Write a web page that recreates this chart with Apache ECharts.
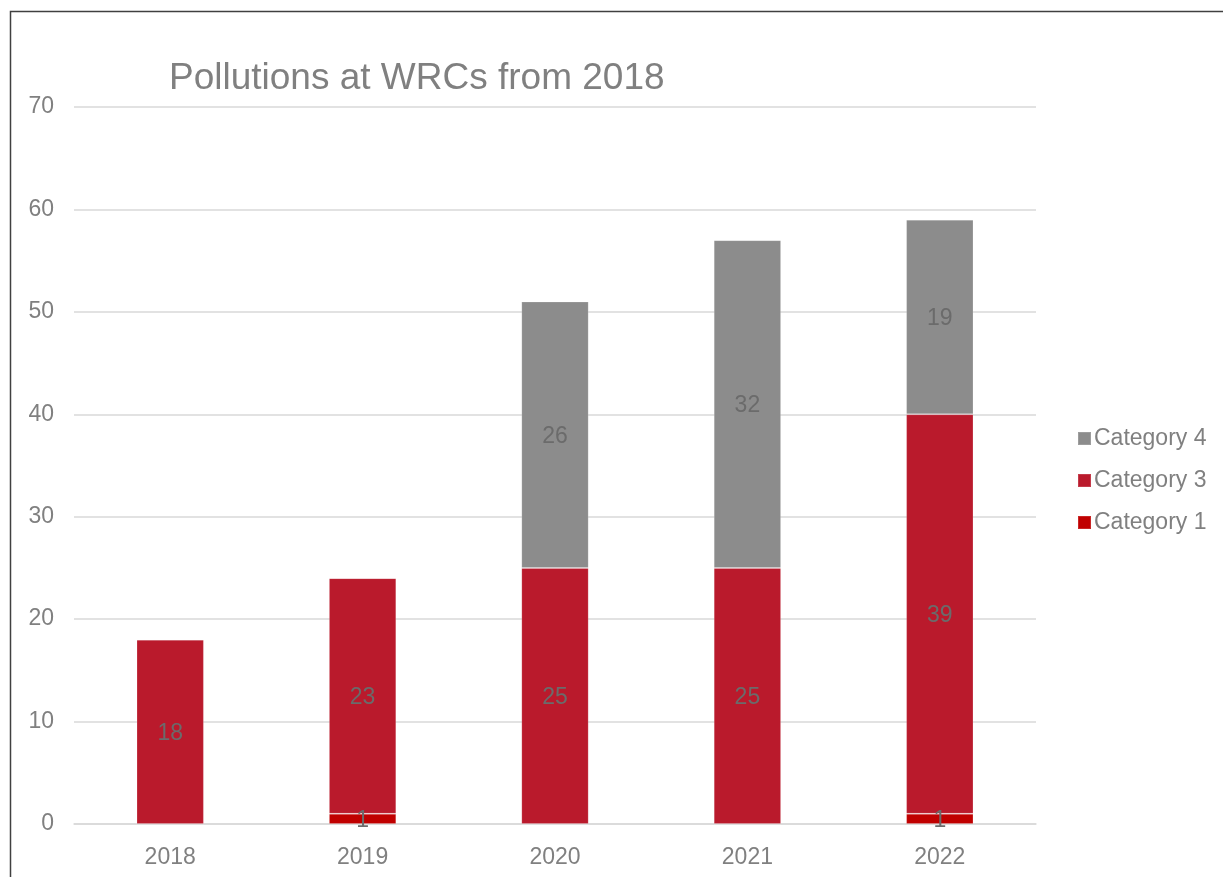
<!DOCTYPE html>
<html>
<head>
<meta charset="utf-8">
<script src="https://cdn.jsdelivr.net/npm/echarts@6/dist/echarts.min.js"></script>
<style>
  html, body { margin: 0; padding: 0; background: #fff; }
  #chart { width: 1223px; height: 877px; }
</style>
</head>
<body>
<div id="chart"></div>
<script>
// Yearly counts of pollution incidents by category
const years = ['2018', '2019', '2020', '2021', '2022'];
const category1 = [0, 1, 0, 0, 1];
const category3 = [18, 23, 25, 25, 39];
const category4 = [0, 0, 26, 32, 19];
const yTicks = { min: 0, max: 70, interval: 10 };

const textGray = '#808080';
const labelGray = '#6b6b6b';
const font = 'Liberation Sans, Arial, sans-serif';

const chart = echarts.init(document.getElementById('chart'), null, { renderer: 'canvas' });

function seriesOf(name, data, color) {
  return {
    name: name,
    type: 'bar',
    stack: 'total',
    barWidth: '35%',
    data: data,
    itemStyle: { color: color, borderColor: 'rgba(255,255,255,0.15)', borderWidth: 1 },
    label: {
      show: true,
      position: 'inside',
      color: labelGray,
      fontSize: 23,
      fontFamily: font,
      offset: [0, 2],
      formatter: p => (p.value ? String(p.value) : '')
    },
    emphasis: { disabled: true }
  };
}

chart.setOption({
  animation: false,
  backgroundColor: '#fff',
  title: {
    text: 'Pollutions at WRCs from 2018',
    left: 164,
    top: 55,
    textStyle: { color: textGray, fontSize: 37, fontWeight: 'normal', fontFamily: font }
  },
  legend: {
    orient: 'vertical',
    left: 1072,
    top: 422,
    itemWidth: 13,
    itemHeight: 13,
    itemGap: 19,
    icon: 'rect',
    data: ['Category 4', 'Category 3', 'Category 1'],
    textStyle: { color: textGray, fontSize: 23, fontFamily: font, padding: [0, 0, 0, -2] }
  },
  grid: { left: 74, right: 187, top: 107, bottom: 53, containLabel: false },
  xAxis: {
    type: 'category',
    data: years,
    axisLine: { lineStyle: { color: '#d9d9d9', width: 1.5 } },
    axisTick: { show: false },
    axisLabel: { color: textGray, fontSize: 23, fontFamily: font, margin: 22 }
  },
  yAxis: {
    type: 'value',
    min: yTicks.min,
    max: yTicks.max,
    interval: yTicks.interval,
    axisLine: { show: false },
    axisTick: { show: false },
    splitLine: { lineStyle: { color: '#d9d9d9', width: 1.5 } },
    axisLabel: { color: textGray, fontSize: 23, fontFamily: font, margin: 20, padding: [3, 0, 0, 0] }
  },
  series: [
    seriesOf('Category 1', category1, '#c00000'),
    seriesOf('Category 3', category3, '#ba1a2c'),
    seriesOf('Category 4', category4, '#8c8c8c')
  ],
  graphic: [{
    type: 'rect',
    shape: { x: 10.5, y: 11.5, width: 1400, height: 1000 },
    style: { fill: 'none', stroke: '#404040', lineWidth: 1.5 },
    silent: true
  }]
});
</script>
</body>
</html>
